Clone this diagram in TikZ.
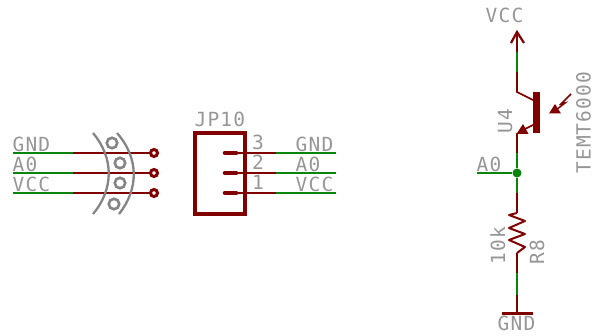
\documentclass[tikz,border=0pt]{standalone}
\usepackage{fontspec}
\newfontfamily\eaglefont{DejaVu Sans Mono}[LetterSpace=6]
\definecolor{netred}{HTML}{800000}
\definecolor{netgreen}{HTML}{0A840A}
\definecolor{lbl}{HTML}{969696}
\definecolor{sym}{HTML}{858585}
\tikzset{
  lab/.style={text=lbl,font=\eaglefont\fontsize{19.5}{20}\selectfont,inner sep=0pt,anchor=base west},
  rlab/.style={lab,rotate=90},
  rw/.style={draw=netred,line width=1.7pt},
  gw/.style={draw=netgreen,line width=1.7pt},
  holder/.style={draw=sym,line width=2.3pt},
  outline/.style={draw=netred,line width=3.4pt},
  pinbar/.style={draw=netred,line width=4.6pt,line cap=round},
  padhole/.style={circle,draw=netred,line width=3pt,fill=white,minimum size=7pt,inner sep=0pt},
  holeg/.style={circle,draw=sym,line width=2.6pt,fill=white,minimum size=10.5pt,inner sep=0pt},
  dotj/.style={circle,fill=netgreen,minimum size=9pt,inner sep=0pt},
}
\begin{document}
\begin{tikzpicture}[x=1pt,y=-1pt]
\useasboundingbox (0,0) rectangle (595,336);
% left connector wires
\foreach \n/\y in {a/153,b/173,c/193}{
  \coordinate (l\n) at (13,\y);
  \coordinate (m\n) at (73,\y);
  \node[padhole] (p\n) at (154,\y) {};
  \draw[gw] (l\n) -- (m\n);
  \draw[rw] (m\n) -- (p\n);
}
% holder
\coordinate (h1) at (93,133); \coordinate (h2) at (93,214);
\coordinate (h3) at (117,133); \coordinate (h4) at (119,214);
\draw[holder] (h1) .. controls (114,158) and (114,189) .. (h2);
\draw[holder] (h3) .. controls (139,158) and (139,189) .. (h4);
\node[holeg] (c1) at (112,143) {};
\node[holeg] (c2) at (120,163) {};
\node[holeg] (c3) at (120,183) {};
\node[holeg] (c4) at (114,204) {};
\node[lab] (t1) at (12.5,152) {GND};
\node[lab] (t2) at (12.5,172) {A0};
\node[lab] (t3) at (12.5,192) {VCC};
% JP10
\draw[outline] (195,133) rectangle (245,214);
\foreach \n/\y in {a/153,b/173,c/193}{
  \coordinate (q\n) at (225,\y);
  \coordinate (r\n) at (236,\y);
  \coordinate (s\n) at (276,\y);
  \coordinate (e\n) at (336,\y);
  \draw[rw] (r\n) -- (s\n);
  \draw[gw] (s\n) -- (e\n);
  \draw[pinbar] (q\n) -- (r\n);
}
\node[lab] (jp) at (194.5,127) {JP10};
\node[lab] (n3) at (252,150) {3};
\node[lab] (n2) at (252,170) {2};
\node[lab] (n1) at (252,190) {1};
\node[lab] (t4) at (295.5,152) {GND};
\node[lab] (t5) at (295.5,172) {A0};
\node[lab] (t6) at (295.5,192) {VCC};
% right: VCC
\node[lab] (vcc) at (485.5,23) {VCC};
\coordinate (v0) at (517,32);
\coordinate (v1) at (517,52);
\coordinate (v2) at (517,72);
\coordinate (v3) at (517,92);
\coordinate (v4) at (533,100);
\coordinate (vl) at (511,43);
\coordinate (vr) at (524,43);
\draw[rw,line width=2.2pt] (vl) -- (v0) -- (vr);
\draw[rw] (v0) -- (v1);
\draw[gw] (v1) -- (v2);
\draw[rw] (v2) -- (v3) -- (v4);
% transistor
\fill[netred] (533,92) rectangle (540,133);
\coordinate (em0) at (533,125);
\coordinate (em1) at (525,129);
\draw[rw] (em0) -- (em1);
\fill[netred] (516.5,134) -- (523,124) -- (528.5,134) -- cycle;
% light arrow
\coordinate (li0) at (571,94);
\coordinate (li1) at (561,104);
\coordinate (li2) at (565,103);
\coordinate (li3) at (556,110);
\draw[rw,line width=1.5pt] (li0) -- (li1) -- (li2) -- (li3);
\fill[netred] (549,113.5) -- (561,113.5) -- (555,104) -- cycle;
\node[rlab] (u4) at (512,134) {U4};
\node[rlab] (temt) at (590.5,174) {TEMT6000};
% wire down
\coordinate (d0) at (517,133);
\coordinate (d1) at (517,153);
\node[dotj] (j) at (517,173) {};
\coordinate (d2) at (517,193);
\coordinate (d3) at (517,213);
\coordinate (a0w) at (477,173);
\draw[rw] (d0) -- (d1);
\draw[gw] (d1) -- (j);
\draw[gw] (a0w) -- (j);
\draw[gw] (j) -- (d2);
\draw[rw] (d2) -- (d3);
\node[lab] (t7) at (476.5,172) {A0};
% resistor
\coordinate (d4) at (517,253);
\draw[rw,line join=round,line width=2pt] (d3) -- (509,215) -- (525,221) -- (509,228) -- (525,234) -- (509,240) -- (525,247) -- (d4);
\coordinate (d5) at (517,273);
\coordinate (d6) at (517,295);
\coordinate (d7) at (517,314);
\coordinate (g0) at (502,314);
\coordinate (g1) at (533,314);
\draw[rw] (d4) -- (d5);
\draw[gw] (d5) -- (d6);
\draw[rw] (d6) -- (d7);
\draw[rw,line width=3pt] (g0) -- (g1);
\node[rlab] (k) at (505,265) {10k};
\node[rlab] (r8) at (544,265) {R8};
\node[lab] (gnd) at (497.5,331) {GND};
\end{tikzpicture}
\end{document}
